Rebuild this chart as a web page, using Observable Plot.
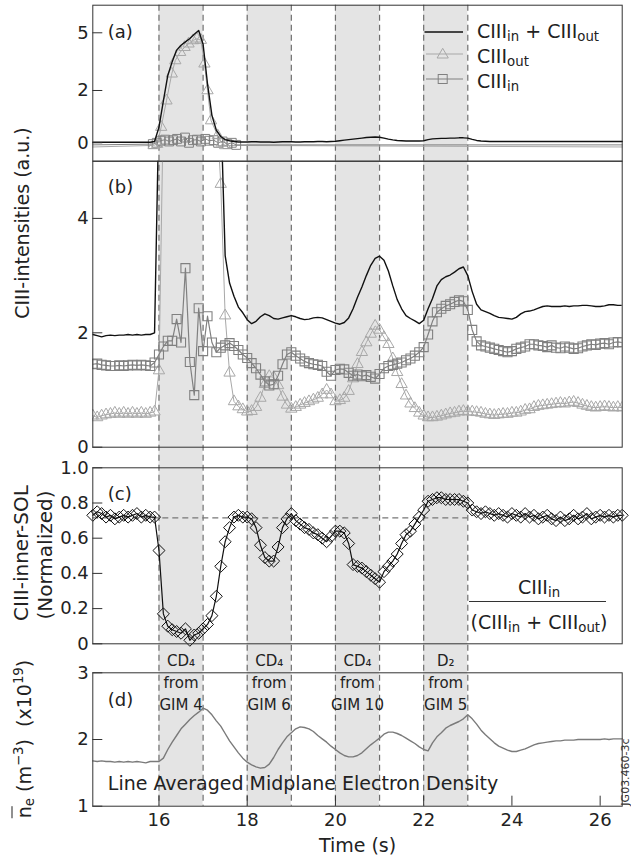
<!DOCTYPE html>
<html><head><meta charset="utf-8">
<script src="https://cdn.jsdelivr.net/npm/d3@7"></script>
<script src="https://cdn.jsdelivr.net/npm/@observablehq/plot@0.6"></script>
<style>
body{margin:0;background:#fff;}
#chart{position:relative;width:631px;height:861px;overflow:hidden;font-family:"DejaVu Sans",sans-serif;color:#222;}
#chart svg{position:absolute;left:0;top:0;}
.t{position:absolute;white-space:nowrap;line-height:1;transform:translate(-50%,-50%);}
.t.l{transform:translate(0,-50%);}
.t.rot{transform:translate(-50%,-50%) rotate(-90deg);}
sub{font-size:0.7em;vertical-align:-0.3em;line-height:0;}
sup{font-size:0.7em;vertical-align:0.55em;line-height:0;}
</style></head>
<body><div id="chart"></div>
<script>
// ---------- data ----------
const time = [
14.5,14.6,14.7,14.8,14.9,15.0,15.1,15.2,15.3,15.4,
15.5,15.6,15.7,15.8,15.9,16.0,16.1,16.2,16.3,16.4,
16.5,16.6,16.7,16.8,16.9,17.0,17.1,17.2,17.3,17.4,
17.5,17.6,17.7,17.8,17.9,18.0,18.1,18.2,18.3,18.4,
18.5,18.6,18.7,18.8,18.9,19.0,19.1,19.2,19.3,19.4,
19.5,19.6,19.7,19.8,19.9,20.0,20.1,20.2,20.3,20.4,
20.5,20.6,20.7,20.8,20.9,21.0,21.1,21.2,21.3,21.4,
21.5,21.6,21.7,21.8,21.9,22.0,22.1,22.2,22.3,22.4,
22.5,22.6,22.7,22.8,22.9,23.0,23.1,23.2,23.3,23.4,
23.5,23.6,23.7,23.8,23.9,24.0,24.1,24.2,24.3,24.4,
24.5,24.6,24.7,24.8,24.9,25.0,25.1,25.2,25.3,25.4,
25.5,25.6,25.7,25.8,25.9,26.0,26.1,26.2,26.3,26.4,
26.5];

// panel (a): sum line on the time grid
const sumA = [
0.02,0.02,0.02,0.02,0.02,0.02,0.02,0.02,0.02,0.02,
0.02,0.02,0.02,0.02,0.05,0.6,1.6,2.78,3.5,4.1,
4.35,4.53,4.7,4.92,5.12,4.4,2.35,1.05,0.48,0.24,
0.12,0.08,0.05,0.03,0.03,0.03,0.04,0.04,0.03,0.03,
0.03,0.02,0.03,0.04,0.04,0.04,0.03,0.03,0.04,0.04,
0.04,0.05,0.05,0.04,0.05,0.06,0.08,0.1,0.12,0.14,
0.16,0.18,0.2,0.21,0.22,0.21,0.18,0.14,0.11,0.09,
0.08,0.07,0.07,0.07,0.07,0.08,0.12,0.15,0.16,0.17,
0.17,0.18,0.18,0.19,0.19,0.18,0.13,0.09,0.07,0.06,
0.05,0.05,0.05,0.05,0.05,0.05,0.05,0.05,0.05,0.05,
0.05,0.05,0.05,0.05,0.05,0.05,0.05,0.05,0.05,0.05,
0.05,0.05,0.05,0.05,0.05,0.05,0.05,0.05,0.05,0.05,
0.05];
// panel (a): marker series near the CD4 puff
const aOutTime = [15.88,15.96,16.05,16.17,16.29,16.37,16.48,16.58,16.67,16.77,16.86,16.95,17.03,17.10,17.18,17.33,17.42,17.50];
const aOutVal  = [-0.1,-0.05,0.6,1.61,2.87,3.56,3.99,4.25,4.43,4.6,4.69,4.62,3.39,2.0,0.85,0.28,0.0,-0.1];
const aInTime  = [15.86,15.95,16.04,16.14,16.23,16.32,16.41,16.5,16.59,16.68,16.77,16.86,16.95,17.05,17.14,17.24,17.34,17.44,17.55,17.65,17.75];
const aInVal   = [-0.05,0.0,0.08,0.12,0.05,0.1,0.15,0.05,0.2,0.0,0.1,0.12,0.05,0.15,0.08,0.1,0.0,0.05,-0.05,0.0,-0.08];
const aOutBase = -0.16, aInBase = -0.08;

// panel (b)  (6 = beyond the top of the axis)
const sumB = [
1.97,1.95,1.93,1.95,1.96,1.95,1.96,1.96,1.97,1.96,
1.97,1.96,1.97,1.97,2.00,6,6,6,6,6,
6,6,6,6,6,6,6,6,6,6,
3.35,2.87,2.64,2.45,2.35,2.23,2.16,2.2,2.28,2.33,
2.3,2.25,2.24,2.26,2.28,2.3,2.28,2.25,2.23,2.24,
2.26,2.27,2.26,2.23,2.2,2.17,2.15,2.18,2.26,2.42,
2.62,2.8,3.0,3.18,3.3,3.34,3.27,3.08,2.82,2.58,
2.42,2.3,2.25,2.21,2.16,2.22,2.42,2.6,2.82,2.93,
2.98,3.01,3.06,3.12,3.15,3.0,2.72,2.5,2.4,2.37,
2.34,2.3,2.27,2.26,2.25,2.24,2.27,2.33,2.37,2.38,
2.4,2.43,2.46,2.47,2.46,2.46,2.46,2.47,2.46,2.47,
2.47,2.48,2.48,2.47,2.46,2.46,2.47,2.49,2.49,2.48,
2.48];
const outB = [
0.55,0.52,0.55,0.57,0.58,0.60,0.58,0.60,0.58,0.60,
0.58,0.60,0.58,0.60,0.62,1.34,6,6,6,6,
6,6,6,6,6,6,6,6,6,4.6,
2.3,1.3,0.8,0.71,0.66,0.62,0.63,0.70,0.86,1.10,
1.24,1.22,1.08,0.88,0.74,0.67,0.70,0.74,0.77,0.80,
0.83,0.86,0.92,1.00,0.92,0.80,0.82,0.86,0.98,1.20,
1.45,1.66,1.83,1.98,2.12,2.05,1.92,1.80,1.55,1.31,
1.10,0.90,0.76,0.68,0.60,0.55,0.52,0.52,0.53,0.55,
0.57,0.59,0.60,0.62,0.63,0.62,0.62,0.61,0.60,0.58,
0.57,0.56,0.57,0.58,0.58,0.60,0.60,0.62,0.65,0.66,
0.70,0.72,0.73,0.74,0.75,0.76,0.77,0.76,0.78,0.79,
0.77,0.74,0.72,0.70,0.69,0.70,0.71,0.70,0.69,0.70,
0.69];
const inB = [
1.45,1.46,1.44,1.43,1.42,1.42,1.43,1.42,1.43,1.44,
1.43,1.44,1.43,1.42,1.48,1.62,1.76,1.86,1.86,2.24,
1.83,3.13,1.49,0.91,2.43,1.68,2.29,1.83,1.66,1.74,
1.78,1.82,1.77,1.7,1.62,1.56,1.47,1.38,1.27,1.15,
1.08,1.1,1.25,1.45,1.62,1.66,1.6,1.55,1.5,1.47,
1.45,1.44,1.42,1.32,1.25,1.35,1.37,1.36,1.3,1.25,
1.27,1.24,1.26,1.23,1.2,1.28,1.38,1.42,1.44,1.46,
1.48,1.52,1.55,1.6,1.66,1.75,1.97,2.2,2.36,2.42,
2.47,2.5,2.54,2.57,2.55,2.4,2.05,1.85,1.78,1.76,
1.74,1.72,1.7,1.68,1.66,1.68,1.72,1.74,1.76,1.8,
1.8,1.78,1.77,1.75,1.78,1.74,1.73,1.76,1.74,1.72,
1.73,1.76,1.78,1.8,1.79,1.81,1.82,1.8,1.83,1.84,
1.83];

// panel (c)
const ratioC = [
0.73,0.75,0.74,0.72,0.73,0.71,0.72,0.73,0.72,0.73,
0.74,0.72,0.73,0.72,0.72,0.53,0.17,0.10,0.08,0.07,
0.06,0.085,0.02,0.05,0.06,0.085,0.11,0.16,0.27,0.44,
0.58,0.66,0.72,0.73,0.72,0.72,0.71,0.66,0.56,0.49,
0.47,0.47,0.55,0.66,0.71,0.74,0.70,0.68,0.66,0.65,
0.63,0.62,0.60,0.58,0.61,0.64,0.64,0.63,0.57,0.45,
0.44,0.43,0.41,0.39,0.37,0.35,0.41,0.44,0.47,0.51,
0.57,0.62,0.64,0.68,0.72,0.76,0.81,0.82,0.83,0.83,
0.82,0.82,0.82,0.82,0.81,0.80,0.76,0.75,0.74,0.75,
0.74,0.73,0.74,0.73,0.72,0.74,0.73,0.72,0.74,0.72,
0.73,0.71,0.72,0.73,0.71,0.70,0.72,0.70,0.71,0.73,
0.71,0.72,0.74,0.71,0.72,0.73,0.72,0.73,0.72,0.73,
0.73];
const refLevel = 0.716, refEnd = 23;

// panel (d)
const densD = [
1.68,1.67,1.68,1.67,1.67,1.66,1.67,1.66,1.67,1.66,
1.67,1.66,1.65,1.67,1.67,1.67,1.72,1.85,1.96,2.06,
2.16,2.23,2.30,2.36,2.41,2.47,2.44,2.37,2.28,2.20,
2.09,1.98,1.89,1.80,1.72,1.66,1.62,1.59,1.57,1.58,
1.63,1.73,1.85,1.95,2.04,2.10,2.16,2.19,2.18,2.16,
2.12,2.06,2.01,1.96,1.90,1.85,1.80,1.76,1.74,1.74,
1.76,1.80,1.86,1.92,1.97,2.02,2.08,2.11,2.11,2.09,
2.06,2.02,1.98,1.94,1.89,1.85,1.83,1.95,2.04,2.10,
2.17,2.21,2.24,2.27,2.31,2.37,2.31,2.23,2.14,2.07,
2.01,1.95,1.90,1.87,1.84,1.82,1.82,1.84,1.86,1.89,
1.92,1.94,1.95,1.96,1.97,1.98,1.98,1.99,1.99,1.99,
2.00,2.00,2.00,2.00,2.00,2.00,2.01,2.00,2.01,2.01,
2.01];

// gas puff windows
const bandStart = [16, 18, 20, 22];
const bandEnd   = [17, 19, 21, 23];
const bandLabel = ["CD\u2084\nfrom\nGIM 4", "CD\u2084\nfrom\nGIM 6", "CD\u2084\nfrom\nGIM 10", "D\u2082\nfrom\nGIM 5"];

// ticks
const xTicks = [16, 18, 20, 22, 24, 26];
const yTicksA = [0, 2, 5];
const yTicksB = [0, 2, 4];
const yTicksC = [0, 0.2, 0.4, 0.6, 0.8, 1.0];
const yTicksD = [1, 2, 3];
// panel (a) axis is not uniform: tick values and their relative spacing on the original axis
const aAxisValues = [0, 2, 5];
const aAxisSpacing = [0, 2, 4.207];

// ---------- layout ----------
const W = 631, H = 861;
const ML = 92.3, MR = 9.3;
const FW = W - ML - MR;
const X_DOMAIN = [14.5, 26.5];
const TICK = 10;
const OUT_C = "#a8a8a8", IN_C = "#808080", FRAME_C = "#333";
const STYLE = {fontFamily: "DejaVu Sans", fontSize: "18px", color: "#222", background: "transparent", overflow: "visible"};

const rows = (t, v) => t.map((x, i) => ({t: x, v: v[i]}));
const sumAD = rows(time, sumA);
const outAD = rows(aOutTime, aOutVal);
const inAD = rows(aInTime, aInVal);
const outALine = [{t: X_DOMAIN[0], v: aOutBase}, ...outAD, {t: X_DOMAIN[1], v: aOutBase}];
const inALine = [{t: X_DOMAIN[0], v: aInBase}, ...inAD, {t: X_DOMAIN[1], v: aInBase}];
const sumBD = rows(time, sumB), outBD = rows(time, outB), inBD = rows(time, inB);
const ratioD = rows(time, ratioC), densDD = rows(time, densD);
const bands = bandStart.map((s, i) => ({s, e: bandEnd[i], label: bandLabel[i], mid: (s + bandEnd[i]) / 2}));

const aWarp = d3.scaleLinear().domain(aAxisValues).range(aAxisSpacing);

function frameMarks(ticks, fmt) {
  return [
    Plot.frame({stroke: FRAME_C, strokeWidth: 1}),
    Plot.ruleY(ticks, {stroke: FRAME_C, strokeWidth: 1, insetRight: FW - TICK}),
    Plot.axisY(ticks, {tickSize: 0, tickPadding: 4, tickFormat: fmt, label: null})
  ];
}
const panelLabel = (s, dy) => Plot.text([s], {frameAnchor: "top-left", dx: 15, dy, textAnchor: "start", lineAnchor: "middle", fontSize: 18});

// background: shaded puff windows + dashed edges spanning all panels
const bg = Plot.plot({
  width: W, height: H, marginLeft: ML, marginRight: MR, marginTop: 4.7, marginBottom: H - 805.7,
  x: {domain: X_DOMAIN, axis: null}, y: {domain: [0, 1], axis: null},
  style: STYLE,
  marks: [
    Plot.rect(bands, {x1: "s", x2: "e", fill: "#e4e4e4"}),
    Plot.ruleX([...bandStart, ...bandEnd], {stroke: "#6e6e6e", strokeWidth: 1.2, strokeDasharray: "6,4"})
  ]
});

// (a)
const plotA = Plot.plot({
  width: W, height: H, marginLeft: ML, marginRight: MR, marginTop: 4.7, marginBottom: H - 160.7,
  x: {domain: X_DOMAIN, axis: null},
  y: {domain: [-0.704, 5.262], transform: aWarp, label: null},
  style: STYLE,
  marks: [
    Plot.line(outALine, {x: "t", y: "v", stroke: OUT_C, strokeWidth: 1}),
    Plot.line(inALine, {x: "t", y: "v", stroke: IN_C, strokeWidth: 1}),
    Plot.dot(inAD, {x: "t", y: "v", symbol: "square", r: 5, stroke: IN_C, fill: "none", strokeWidth: 1}),
    Plot.dot(outAD, {x: "t", y: "v", symbol: "triangle", r: 4.2, stroke: OUT_C, fill: "none", strokeWidth: 1}),
    Plot.line(sumAD, {x: "t", y: "v", stroke: "#111", strokeWidth: 1.4}),
    ...frameMarks(yTicksA, d => String(d)),
    panelLabel("(a)", 27)
  ]
});

// (b)
const plotB = Plot.plot({
  width: W, height: H, marginLeft: ML, marginRight: MR, marginTop: 160.7, marginBottom: H - 446.7,
  x: {domain: X_DOMAIN, axis: null},
  y: {domain: [0, 5], label: null},
  style: STYLE,
  marks: [
    Plot.line(outBD, {x: "t", y: "v", stroke: OUT_C, strokeWidth: 1, clip: true}),
    Plot.dot(outBD, {x: "t", y: "v", symbol: "triangle", r: 4.2, stroke: OUT_C, fill: "none", strokeWidth: 1, clip: true}),
    Plot.line(inBD, {x: "t", y: "v", stroke: IN_C, strokeWidth: 1.2, clip: true}),
    Plot.dot(inBD, {x: "t", y: "v", symbol: "square", r: 5.1, stroke: IN_C, fill: "none", strokeWidth: 1.1, clip: true}),
    Plot.line(sumBD, {x: "t", y: "v", stroke: "#111", strokeWidth: 1.4, clip: true}),
    ...frameMarks(yTicksB, d => String(d)),
    panelLabel("(b)", 26)
  ]
});

// (c)
const plotC = Plot.plot({
  width: W, height: H, marginLeft: ML, marginRight: MR, marginTop: 467.3, marginBottom: H - 643.3,
  x: {domain: X_DOMAIN, axis: null},
  y: {domain: [0, 1], label: null},
  style: STYLE,
  marks: [
    Plot.ruleY([refLevel], {x1: X_DOMAIN[0], x2: refEnd, stroke: "#777", strokeWidth: 1.2, strokeDasharray: "6,4"}),
    Plot.line(ratioD, {x: "t", y: "v", stroke: "#111", strokeWidth: 1.2}),
    Plot.dot(ratioD, {x: "t", y: "v", symbol: "diamond2", r: 5.4, stroke: "#111", fill: "none", strokeWidth: 1}),
    ...frameMarks(yTicksC, d => d === 0 ? "0" : d.toFixed(1)),
    panelLabel("(c)", 26)
  ]
});

// (d)
const plotD = Plot.plot({
  width: W, height: H, marginLeft: ML, marginRight: MR, marginTop: 672.3, marginBottom: H - 805.7,
  x: {domain: X_DOMAIN, label: null},
  y: {domain: [1, 3], label: null},
  style: STYLE,
  marks: [
    Plot.line(densDD, {x: "t", y: "v", stroke: "#7a7a7a", strokeWidth: 1.4}),
    ...frameMarks(yTicksD, d => String(d)),
    Plot.ruleX(xTicks, {stroke: FRAME_C, strokeWidth: 1, insetTop: (805.7 - 672.3) - TICK}),
    Plot.axisX(xTicks, {tickSize: 0, tickPadding: 7, label: null}),
    Plot.text(bands, {x: "mid", text: "label", frameAnchor: "top", dy: 8, lineAnchor: "middle", lineHeight: 1.48, fontSize: 15}),
    Plot.text(["Line Averaged Midplane Electron Density"], {frameAnchor: "bottom-left", dx: 15, dy: -22, textAnchor: "start", lineAnchor: "middle", fontSize: 19}),
    Plot.text(["Time (s)"], {frameAnchor: "bottom", dy: 40, lineAnchor: "middle", fontSize: 19}),
    panelLabel("(d)", 27)
  ]
});

const chart = document.getElementById("chart");
[bg, plotA, plotB, plotC, plotD].forEach(p => chart.appendChild(p));

// HTML text overlays (sub/superscripts)
chart.insertAdjacentHTML("beforeend", `
<svg width="631" height="100" style="position:absolute;left:0;top:0">
  <line x1="424.5" x2="463" y1="32" y2="32" stroke="#111" stroke-width="1.5"/>
  <line x1="426" x2="463" y1="54" y2="54" stroke="${OUT_C}"/>
  <path d="M442.7,48.3 L448.3,58 L437.1,58 Z" fill="none" stroke="${OUT_C}"/>
  <line x1="426" x2="463" y1="79" y2="79" stroke="${IN_C}"/>
  <rect x="438.2" y="74.5" width="9" height="9" fill="none" stroke="${IN_C}"/>
</svg>
<div class="t l" style="left:477px;top:31px;font-size:19px">CIII<sub>in</sub> + CIII<sub>out</sub></div>
<div class="t l" style="left:477px;top:56px;font-size:19px">CIII<sub>out</sub></div>
<div class="t l" style="left:477px;top:81px;font-size:19px">CIII<sub>in</sub></div>
<div class="t rot" style="left:22px;top:223px;font-size:19px">CIII-intensities (a.u.)</div>
<div class="t rot" style="left:21px;top:553px;font-size:20px">CIII-inner-SOL</div>
<div class="t rot" style="left:45px;top:555px;font-size:20px">(Normalized)</div>
<div class="t rot" style="left:24px;top:739px;font-size:19px"><span style="text-decoration:overline">n</span><sub>e</sub> (m<sup>\u22123</sup>)&nbsp;&nbsp;(x10<sup>19</sup>)</div>
<div class="t" style="left:539px;top:587px;font-size:19px">CIII<sub>in</sub></div>
<div style="position:absolute;left:469px;top:601px;width:137px;height:1.3px;background:#333"></div>
<div class="t" style="left:539px;top:622px;font-size:19px">(CIII<sub>in</sub> + CIII<sub>out</sub>)</div>
<div class="t rot" style="left:625px;top:772px;font-size:11px;color:#333">JG03.460-3c</div>
`);
</script>
</body></html>
